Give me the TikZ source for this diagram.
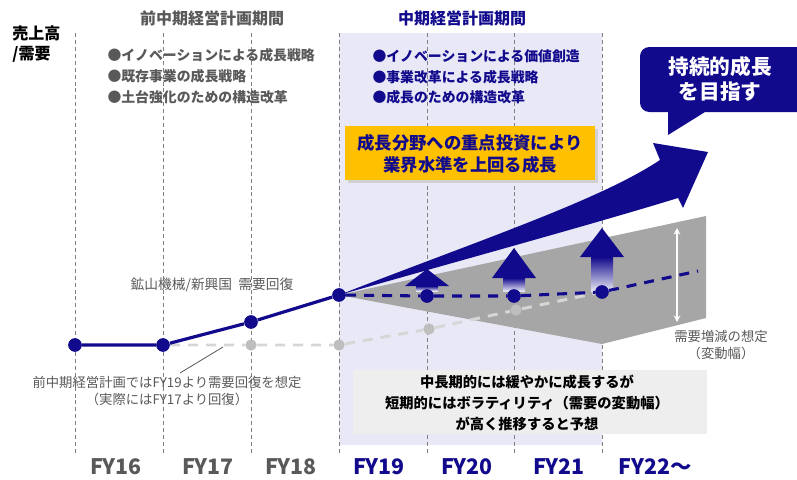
\documentclass[tikz,border=0pt]{standalone}
\usepackage{fontspec}
\setmainfont{Noto Sans CJK JP}
\usetikzlibrary{arrows.meta}
\definecolor{navy}{RGB}{18,10,140}
\definecolor{lav}{RGB}{232,232,246}
\definecolor{txtgray}{RGB}{89,89,89}
\definecolor{fangray}{RGB}{166,166,166}
\definecolor{gline}{RGB}{214,214,214}
\definecolor{gdotc}{RGB}{190,190,190}
\definecolor{orng}{RGB}{255,192,0}
\definecolor{boxgray}{RGB}{238,238,238}
\begin{document}
\begin{tikzpicture}[x=0.75pt,y=-0.75pt,line width=0.75pt,
  every node/.style={inner sep=0pt,font=\fontsize{10.3}{15.4}\selectfont},
  bdot/.style={circle,fill=navy,minimum size=10pt},
  gdot/.style={circle,fill=gdotc,minimum size=8.5pt},
  vline/.style={color=gray,line width=0.75pt,dash pattern=on 3pt off 2.2pt},
  bline/.style={navy,line width=2.4pt},
  bdash/.style={navy,line width=2.3pt,dash pattern=on 7.5pt off 6pt},
  gdash/.style={gline,line width=2.2pt,dash pattern=on 7.5pt off 6pt},
  fy/.style={font=\fontsize{16}{18}\selectfont\bfseries},
  head/.style={font=\fontsize{12}{14}\selectfont\bfseries}]
\useasboundingbox (0,0) rectangle (797,479);
\fill[lav] (339,33) rectangle (602,445);
\foreach \x in {75,163,251,339,427,514,602}
  \draw[vline] (\x,33) -- (\x,455);
\coordinate (P) at (339,295);
\fill[fangray] (P) -- (706,216) -- (706,318) -- (602,344) -- cycle;
\fill[boxgray] (353,370) rectangle (707,434);
\fill[black!18] (348,129) rectangle (598,183);
\fill[orng] (345,126) rectangle (595,180);
\fill[navy] (P) .. controls (480,240) and (600,200) .. (660,160) -- (653,143) -- (708,152)
  -- (683,208) -- (678,198) .. controls (600,222) and (480,255) .. (P);
\fill[navy] (797,47) [rounded corners=7pt] -- (640,47) -- (640,112) [sharp corners] -- (668,112)
  -- (668,135) -- (705,112) -- (797,112) -- cycle;
\foreach \x/\t/\b in {427/269/286,514/248/278,602/228/257}{
  \shade[top color=navy,bottom color=navy!10] (\x-11,\b) rectangle (\x+11,291);
  \fill[navy] (\x-22,\b) -- (\x,\t) -- (\x+22,\b) -- cycle;
}
\draw[white,line width=1.2pt,{Stealth[length=5pt,width=5pt]}-{Stealth[length=5pt,width=5pt]}] (677,228) -- (677,322);
\node[bdot] (a16) at (75,345) {};
\node[bdot] (a17) at (163,345) {};
\node[bdot] (a18) at (251,322) {};
\node[bdot] (a19) at (339,295) {};
\node[bdot] (a20) at (427,296) {};
\node[bdot] (a21) at (514,296) {};
\node[bdot] (a22) at (602,292) {};
\coordinate (aend) at (698,271);
\node[gdot] (g18) at (251,345) {};
\node[gdot] (g19) at (339,345) {};
\node[gdot] (g20) at (429,329) {};
\node[gdot] (g21) at (516,310) {};
\draw[gdash] (a17) -- (g18) -- (g19) -- (g20) -- (g21) -- (a22);
\draw[bline] (a16) -- (a17) -- (a18) -- (a19);
\draw[bdash] (a19) -- (a20) -- (a21) -- (a22) -- (aend);
\node[bdot] at (a16) {};
\node[bdot] at (a17) {};
\node[bdot] at (a18) {};
\node[bdot] at (a19) {};
\node[bdot] at (a20) {};
\node[bdot] at (a21) {};
\node[bdot] at (a22) {};
\node[font=\fontsize{12}{15}\selectfont\bfseries,align=left,anchor=north west] (ylab) at (12,25) {売上高\\/需要};
\node[head,txtgray] (prevhd) at (212,18) {前中期経営計画期間};
\node[head,navy] (curhd) at (462,18) {中期経営計画期間};
\node[txtgray,font=\fontsize{10.4}{15.6}\selectfont\bfseries,align=left,anchor=north west] (prevlist) at (107,48)
  {●イノベーションによる成長戦略\\●既存事業の成長戦略\\●土台強化のための構造改革};
\node[navy,font=\fontsize{10.4}{15.6}\selectfont\bfseries,align=left,anchor=north west] (curlist) at (372,49)
  {●イノベーションによる価値創造\\●事業改革による成長戦略\\●成長のための構造改革};
\node[navy,font=\fontsize{13}{16.5}\selectfont\bfseries,align=center] (focus) at (470,154)
  {成長分野への重点投資により\\業界水準を上回る成長};
\node[white,font=\fontsize{15.5}{19}\selectfont\bfseries,align=center] (goal) at (720,79)
  {持続的成長\\を目指す};
\node[txtgray] (mining) at (212,285) {鉱山機械/新興国\ \ 需要回復};
\node[txtgray,font=\fontsize{10}{13}\selectfont,align=center] (plan) at (167,391)
  {前中期経営計画ではFY19より需要回復を想定\\（実際にはFY17より回復）};
\coordinate (planend) at (223,347);
\draw[txtgray,line width=0.6pt] (180,373) -- (planend);
\node[txtgray,font=\fontsize{10}{12.5}\selectfont,align=center] (range) at (721,345)
  {需要増減の想定\\（変動幅）};
\node[font=\fontsize{10.7}{16}\selectfont\bfseries,align=center] (outlook) at (527,403)
  {中長期的には緩やかに成長するが\\短期的にはボラティリティ（需要の変動幅）\\が高く推移すると予想};
\node[fy,txtgray] (fy16) at (116,467) {FY16};
\node[fy,txtgray] (fy17) at (208,467) {FY17};
\node[fy,txtgray] (fy18) at (291,467) {FY18};
\node[fy,navy] (fy19) at (379,467) {FY19};
\node[fy,navy] (fy20) at (467,467) {FY20};
\node[fy,navy] (fy21) at (559,467) {FY21};
\node[fy,navy] (fy22) at (655,467) {FY22～};
\end{tikzpicture}
\end{document}
